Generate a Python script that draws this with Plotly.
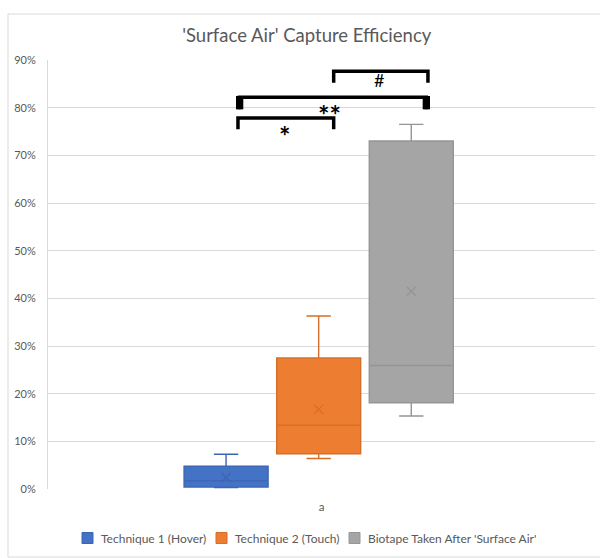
import plotly.graph_objects as go

# Summary statistics for each sampling technique (fractions of 1)
series_names = ["Technique 1 (Hover)", "Technique 2 (Touch)", "Biotape Taken After 'Surface Air'"]
lower_whisker = [0.003, 0.064, 0.153]
q1_values = [0.004, 0.074, 0.181]
median_values = [0.017, 0.134, 0.259]
q3_values = [0.048, 0.275, 0.730]
upper_whisker = [0.073, 0.363, 0.765]
mean_values = [0.024, 0.167, 0.415]
category_labels = ["a"]
y_ticks = [0.0, 0.1, 0.2, 0.3, 0.4, 0.5, 0.6, 0.7, 0.8, 0.9]

fill_colors = ["#4472C4", "#ED7D31", "#A5A5A5"]
line_colors = ["#3A66B3", "#D46F2A", "#959595"]
box_slots = [-1, 0, 1]
x_range = [-2.923, 2.984]

FONT = "Lato"
TEXT_GRAY = "#595959"
GRID = "#D9D9D9"

W, H = 600, 558
M_L, M_R, M_T, M_B = 48, 5, 60, 69
PLOT_W = W - M_L - M_R
PLOT_H = H - M_T - M_B


def px_x(px):
    """Page pixel column -> paper x."""
    return (px - M_L) / PLOT_W


def px_y(py):
    """Page pixel row -> paper y."""
    return (H - M_B - py) / PLOT_H


fig = go.Figure()

for name, pos, lo, a, m, b, hi, fc, lc in zip(series_names, box_slots, lower_whisker, q1_values,
                                           median_values, q3_values, upper_whisker,
                                           fill_colors, line_colors):
    fig.add_trace(go.Box(
        name=name, x=[pos], lowerfence=[lo], q1=[a], median=[m], q3=[b], upperfence=[hi],
        fillcolor=fc, line=dict(color=lc, width=1.4), width=0.907, whiskerwidth=0.29,
        boxpoints=False, showlegend=False,
    ))

# Mean markers drawn as crosses inside each box
for pos, mv, lc in zip(box_slots, mean_values, line_colors):
    fig.add_trace(go.Scatter(
        x=[pos], y=[mv], mode="markers", showlegend=False, hoverinfo="skip",
        marker=dict(symbol="x-thin", size=9, line=dict(color=lc, width=1.3)),
    ))


# Significance brackets
def bracket(x0, x1, y_top, y_end):
    return dict(type="path", xref="x", yref="y",
                path=f"M {x0},{y_end} L {x0},{y_top} L {x1},{y_top} L {x1},{y_end}",
                line=dict(color="black", width=3.5))


shapes = [
    bracket(-0.8715, 0.162, 0.7783, 0.7546),
    bracket(-0.855, 1.162, 0.8219, 0.7965),
    bracket(0.162, 1.180, 0.8762, 0.8523),
    dict(type="rect", xref="x", yref="y", x0=-0.893, x1=-0.814, y0=0.7965, y1=0.8245,
         fillcolor="black", line=dict(width=0)),
    dict(type="rect", xref="x", yref="y", x0=1.123, x1=1.202, y0=0.7965, y1=0.8245,
         fillcolor="black", line=dict(width=0)),
    # chart frame
    dict(type="rect", xref="paper", yref="paper", x0=px_x(8), x1=px_x(620), y0=px_y(557),
         y1=px_y(14), line=dict(color=GRID, width=1), fillcolor="rgba(0,0,0,0)", layer="below"),
]

annotations = [
    dict(x=-0.367, y=0.742, text="<b>*</b>", xref="x", yref="y", showarrow=False,
         font=dict(family=FONT, size=27, color="black")),
    dict(x=0.122, y=0.785, text="<b>**</b>", xref="x", yref="y", showarrow=False,
         font=dict(family=FONT, size=27, color="black")),
    dict(x=0.651, y=0.858, text="#", xref="x", yref="y", showarrow=False,
         font=dict(family=FONT, size=18, color="black")),
]

# Legend row: colour swatch followed by the series name
legend_swatch_left = [82, 216, 349]
legend_row_y = 538
for name, left, fc, lc in zip(series_names, legend_swatch_left, fill_colors, line_colors):
    shapes.append(dict(type="rect", xref="paper", yref="paper",
                       x0=px_x(left), x1=px_x(left + 11),
                       y0=px_y(legend_row_y + 5.5), y1=px_y(legend_row_y - 5.5),
                       fillcolor=fc, line=dict(color=lc, width=1)))
    annotations.append(dict(x=px_x(left + 17), y=px_y(legend_row_y), xref="paper", yref="paper",
                            xanchor="left", yanchor="middle", showarrow=False, text=name,
                            font=dict(family=FONT, size=12, color=TEXT_GRAY)))

fig.update_layout(
    width=W, height=H,
    margin=dict(l=M_L, r=M_R, t=M_T, b=M_B),
    paper_bgcolor="white", plot_bgcolor="white",
    title=dict(text="'Surface Air' Capture Efficiency", x=0.473, xref="paper", xanchor="center",
               y=0.937, yanchor="middle", font=dict(family=FONT, size=18.5, color=TEXT_GRAY)),
    shapes=shapes, annotations=annotations,
    showlegend=False,
    xaxis=dict(range=x_range, tickvals=[sum(x_range) / 2], ticktext=category_labels,
               showgrid=False, zeroline=False, showline=False, ticks="",
               ticklabelstandoff=9, tickfont=dict(family=FONT, size=11.5, color=TEXT_GRAY)),
    yaxis=dict(range=[0, 0.9], tickvals=y_ticks, tickformat=".0%",
               showgrid=True, gridcolor=GRID, gridwidth=1, zeroline=False,
               showline=True, linecolor=GRID, linewidth=1, ticks="",
               ticklabelstandoff=9, tickfont=dict(family=FONT, size=11, color=TEXT_GRAY)),
)

fig.write_html("out.html")
